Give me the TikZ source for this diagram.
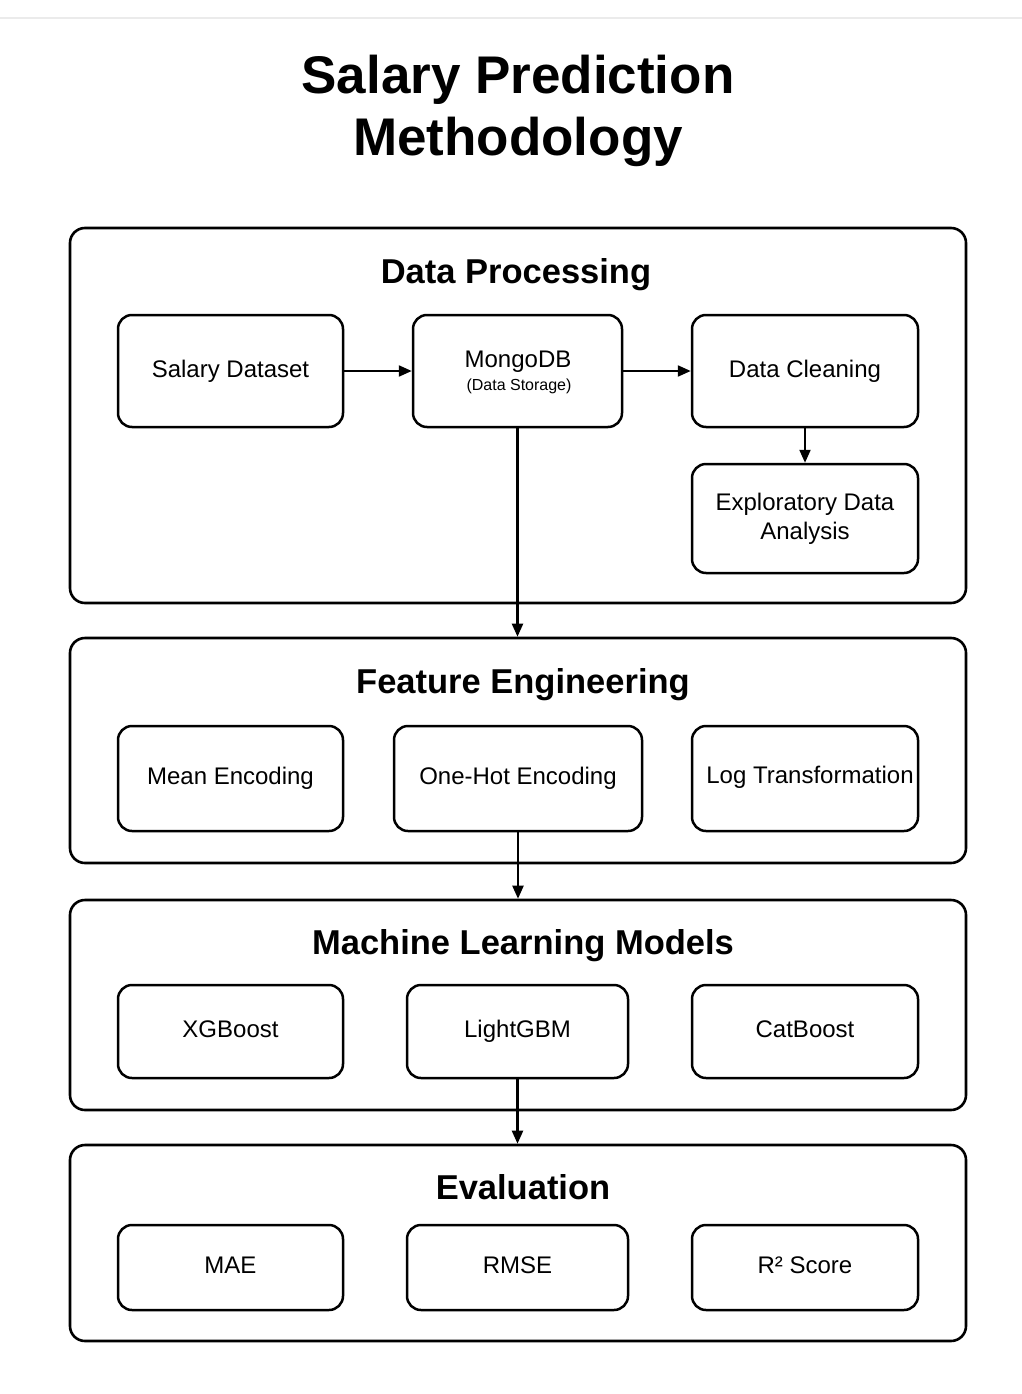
\documentclass[tikz,border=0pt]{standalone}
\usepackage{fontspec}
\setmainfont{Liberation Sans}
\usetikzlibrary{arrows.meta}
\begin{document}
\begin{tikzpicture}[x=1pt,y=-1pt,
  section/.style={draw, line width=2.6pt, rounded corners=15pt, minimum width=896pt, inner sep=0pt},
  boxbase/.style={draw, line width=2.5pt, rounded corners=14pt, inner sep=0pt, align=center, font=\fontsize{24}{29}\selectfont},
  box/.style={boxbase, text height=17pt, text depth=5pt},
  heading/.style={font=\fontsize{34.5}{40}\selectfont\bfseries, inner sep=0pt, text height=25pt, text depth=7pt},
  arr/.style={line width=2.2pt, -{Triangle[length=13pt,width=11pt]}}
]
\fill[white] (0,0) rectangle (1022,1394);
\useasboundingbox (0,0) rectangle (1022,1394);
\draw[black!8, line width=1.5pt] (0,18) -- (1022,18);

% title
\node[font=\fontsize{53}{62}\selectfont\bfseries, align=center, inner sep=0pt] (title) at (518,111) {Salary Prediction\\Methodology};

% sections
\node[section, minimum height=375pt] (dp) at (518,415.5) {};
\node[section, minimum height=225pt] (fe) at (518,750.5) {};
\node[section, minimum height=210pt] (ml) at (518,1005) {};
\node[section, minimum height=196pt] (ev) at (518,1243) {};

\node[heading] (dph) at (516,274) {Data Processing};
\node[heading] (feh) at (523,684) {Feature Engineering};
\node[heading] (mlh) at (523,945) {Machine Learning Models};
\node[heading] (evh) at (523,1190) {Evaluation};

% data processing boxes
\node[box, minimum width=225pt, minimum height=112pt] (sd) at (230.5,371) {Salary Dataset};
\node[box, minimum width=209pt, minimum height=112pt] (mongo) at (517.5,371) {};
\node[font=\fontsize{24}{29}\selectfont, inner sep=0pt, text height=17pt, text depth=5pt] (mongot) at (518,361) {MongoDB};
\node[font=\fontsize{16}{19}\selectfont, inner sep=0pt, text height=11.5pt, text depth=3.5pt] (mongos) at (519,386) {(Data Storage)};
\node[box, minimum width=226pt, minimum height=112pt] (dc) at (805,371) {Data Cleaning};
\node[boxbase, minimum width=226pt, minimum height=109pt] (eda) at (805,518.5) {Exploratory Data\\Analysis};

% feature engineering boxes
\node[box, minimum width=225pt, minimum height=105pt] (me) at (230.5,778.5) {Mean Encoding};
\node[box, minimum width=248pt, minimum height=105pt] (oh) at (518,778.5) {One-Hot Encoding};
\node[box, minimum width=226pt, minimum height=105pt] (lt) at (805,778.5) {};
\node[font=\fontsize{24}{29}\selectfont, inner sep=0pt, text height=17pt, text depth=5pt] (ltt) at (810,777) {Log Transformation};

% ML boxes
\node[box, minimum width=225pt, minimum height=93pt] (xgb) at (230.5,1031.5) {XGBoost};
\node[box, minimum width=221pt, minimum height=93pt] (lgbm) at (517.5,1031.5) {LightGBM};
\node[box, minimum width=226pt, minimum height=93pt] (cat) at (805,1031.5) {CatBoost};

% evaluation boxes
\node[box, minimum width=225pt, minimum height=85pt] (mae) at (230.5,1267.5) {MAE};
\node[box, minimum width=221pt, minimum height=85pt] (rmse) at (517.5,1267.5) {RMSE};
\node[box, minimum width=226pt, minimum height=85pt] (r2) at (805,1267.5) {R² Score};

% connectors
\draw[arr] (sd.east) -- (mongo.west);
\draw[arr] (mongo.east) -- (dc.west);
\draw[arr] (dc.south) -- (eda.north);
\draw[arr] (mongo.south) -- (mongo.south |- fe.north);
\draw[arr] (oh.south) -- (oh.south |- ml.north);
\draw[arr] (lgbm.south) -- (lgbm.south |- ev.north);
\end{tikzpicture}
\end{document}
